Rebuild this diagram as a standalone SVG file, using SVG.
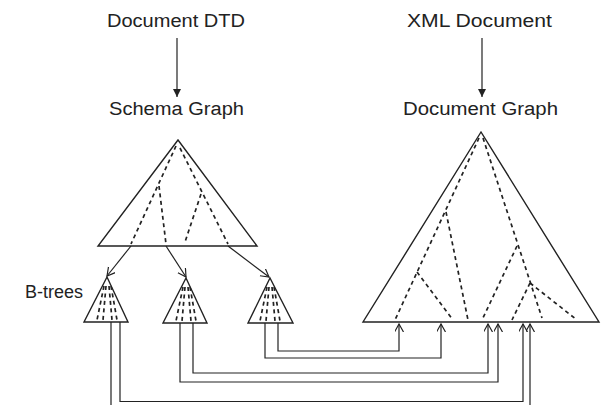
<svg xmlns="http://www.w3.org/2000/svg" width="603" height="405" viewBox="0 0 603 405">
<defs>
<marker id="fill" markerWidth="10" markerHeight="10" refX="8" refY="4" orient="auto" markerUnits="userSpaceOnUse">
<path d="M0,0 L8,4 L0,8 Z" fill="#222"/>
</marker>
<marker id="open" markerWidth="12" markerHeight="12" refX="8" refY="4.5" orient="auto" markerUnits="userSpaceOnUse">
<path d="M0,0 L8,4.5 L0,9" fill="none" stroke="#222" stroke-width="1.2"/>
</marker>
</defs>
<style>
text{font-family:"Liberation Sans",Arial,sans-serif;font-size:18px;fill:#222}
.tri{fill:none;stroke:#222;stroke-width:1.4;stroke-linejoin:miter}
.dash{fill:none;stroke:#222;stroke-width:1.7;stroke-dasharray:4,3.5}
.ln{fill:none;stroke:#222;stroke-width:1.2}
.arf{marker-end:url(#fill)}
.aro{marker-end:url(#open)}
</style>
<g id="doc-dtd"><text x="107" y="27" textLength="138" lengthAdjust="spacingAndGlyphs">Document DTD</text></g>
<g id="xml-doc"><text x="407" y="27" textLength="145" lengthAdjust="spacingAndGlyphs">XML Document</text></g>
<g id="schema-graph">
<text x="109" y="115" textLength="135" lengthAdjust="spacingAndGlyphs">Schema Graph</text>
<polygon class="tri" points="178,140 98,246 257,246"/>
<polyline class="dash" points="176,146 131,244"/>
<polyline class="dash" points="159,186 166,244"/>
<polyline class="dash" points="180,148 228,244"/>
<polyline class="dash" points="201,194 185,242"/>
</g>
<g id="document-graph">
<text x="403" y="115" textLength="155" lengthAdjust="spacingAndGlyphs">Document Graph</text>
<polygon class="tri" points="481,132 363,322 599,322"/>
<polyline class="dash" points="479,138 395,320"/>
<polyline class="dash" points="446,212 468,320"/>
<polyline class="dash" points="417,272 453,320"/>
<polyline class="dash" points="483,138 542,318"/>
<polyline class="dash" points="517,246 482,320"/>
<polyline class="dash" points="530,283 512,320"/>
<polyline class="dash" points="530,283 577,320"/>
</g>
<g id="btrees-label"><text x="83" y="298" text-anchor="end">B-trees</text></g>
<g id="btree-1">
<polygon class="tri" points="107,277 84,322 128,322"/>
<polyline class="dash" points="104,286 97,320"/>
<polyline class="dash" points="106,286 103,320"/>
<polyline class="dash" points="109,286 112,320"/>
<polyline class="dash" points="111,286 117,320"/>
</g>
<g id="btree-2">
<polygon class="tri" points="186,278 163,323 207,323"/>
<polyline class="dash" points="183,287 176,321"/>
<polyline class="dash" points="185,287 182,321"/>
<polyline class="dash" points="188,287 191,321"/>
<polyline class="dash" points="190,287 196,321"/>
</g>
<g id="btree-3">
<polygon class="tri" points="270,278 248,323 293,323"/>
<polyline class="dash" points="267,287 260,321"/>
<polyline class="dash" points="269,287 266,321"/>
<polyline class="dash" points="272,287 275,321"/>
<polyline class="dash" points="274,287 280,321"/>
</g>
<g id="connectors">
<line class="ln arf" x1="177" y1="38" x2="177" y2="97"/>
<line class="ln arf" x1="482" y1="38" x2="482" y2="97"/>
<line class="ln aro" x1="131" y1="246" x2="107" y2="276"/>
<line class="ln aro" x1="166" y1="246" x2="186" y2="277"/>
<line class="ln aro" x1="228" y1="246" x2="269" y2="277"/>
<polyline class="ln aro" points="278,323 278,351 399,351 399,324"/>
<polyline class="ln aro" points="265,323 265,358 441,358 441,324"/>
<polyline class="ln aro" points="193,323 193,373 488,373 488,324"/>
<polyline class="ln aro" points="180,323 180,382 498,382 498,324"/>
<polyline class="ln aro" points="120,322 120,401.5 523,401.5 523,324"/>
<polyline class="ln aro" points="111,322 111,412 530,412 530,324"/>
</g>
</svg>
